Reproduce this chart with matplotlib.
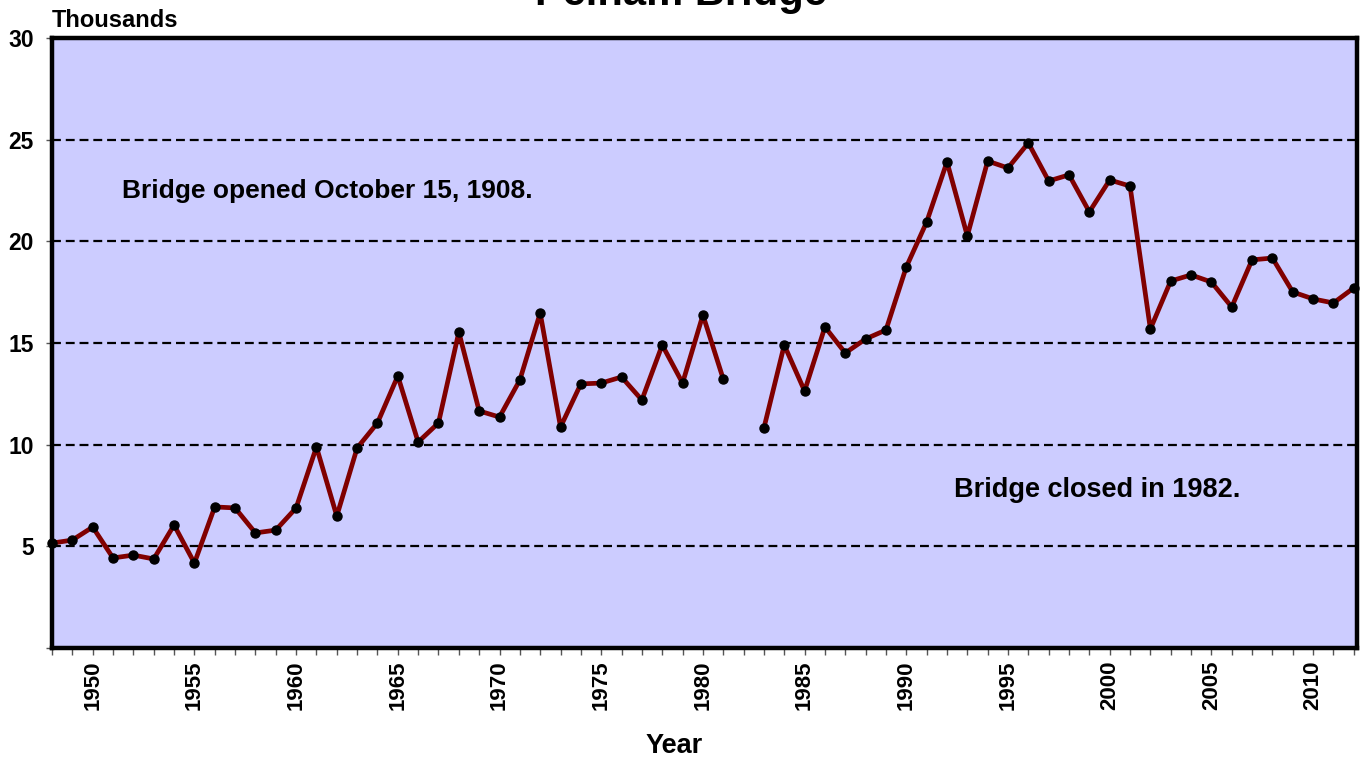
import numpy as np
import matplotlib.pyplot as plt
from matplotlib.ticker import MultipleLocator

plt.rcParams['font.family'] = ['Liberation Sans', 'DejaVu Sans']
plt.rcParams['font.weight'] = 'bold'

# daily traffic, thousands; no count for 1982 (bridge closed)
years = np.arange(1948, 2013)
traffic = [5.16, 5.31, 5.95, 4.43, 4.57, 4.38, 6.05, 4.18, 6.94, 6.89,
           5.66, 5.80, 6.89, 9.89, 6.49, 9.84, 11.07, 13.38, 10.13, 11.07,
           15.54, 11.66, 11.36, 13.18, 16.48, 10.87, 12.99, 13.03, 13.33, 12.20,
           14.90, 13.03, 16.38, 13.23, np.nan, 10.82, 14.90, 12.64, 15.79, 14.51,
           15.20, 15.64, 18.74, 20.95, 23.91, 20.27, 23.95, 23.61, 24.84, 22.97,
           23.27, 21.45, 23.02, 22.72, 15.69, 18.05, 18.35, 18.00, 16.77, 19.09,
           19.18, 17.51, 17.17, 16.97, 17.71]
traffic = np.array(traffic)

fig = plt.figure(figsize=(13.62, 7.59), dpi=100)
ax = fig.add_axes([0.0382, 0.1462, 0.958, 0.8037])
ax.set_facecolor('#CCCCFF')

for yv in [5, 10, 15, 20, 25]:
    ax.axhline(yv, color='black', lw=1.6, ls=(0, (4, 2.2)), zorder=1)

ax.plot(years, traffic, '-', color='#800000', lw=3.4, zorder=2)
ax.plot(years, traffic, 'o', color='black', ms=6.5, zorder=3, clip_on=False)

ax.set_xlim(1948, 2012.15)
ax.set_ylim(0, 30)

ax.set_yticks([5, 10, 15, 20, 25, 30])
ax.yaxis.set_minor_locator(MultipleLocator(5))
ax.set_xticks(np.arange(1950, 2011, 5))
ax.xaxis.set_minor_locator(MultipleLocator(1))
ax.tick_params(axis='x', which='both', length=5, width=1, color='#555555',
               direction='out', labelrotation=90, labelsize=16, pad=4)
ax.tick_params(axis='y', which='both', length=4.3, width=1, color='#555555',
               labelsize=16.5, pad=9)

for s in ax.spines.values():
    s.set_linewidth(3.2)
    s.set_color('black')

ax.set_xlabel('Year', fontsize=19.5, fontweight='bold')
ax.xaxis.set_label_coords(0.477, -0.14)
fig.text(0.0382, 0.965, 'Thousands', fontsize=17, fontweight='bold',
         ha='left', va='baseline')
fig.text(0.5, 0.994, 'Pelham Bridge', fontsize=30, fontweight='bold',
         ha='center', va='baseline')

ax.text(1951.45, 22.5, 'Bridge opened October 15, 1908.', fontsize=19,
        fontweight='bold', va='center')
ax.text(1992.35, 7.75, 'Bridge closed in 1982.', fontsize=19.5,
        fontweight='bold', va='center')

fig.savefig('out.png', dpi=100)
